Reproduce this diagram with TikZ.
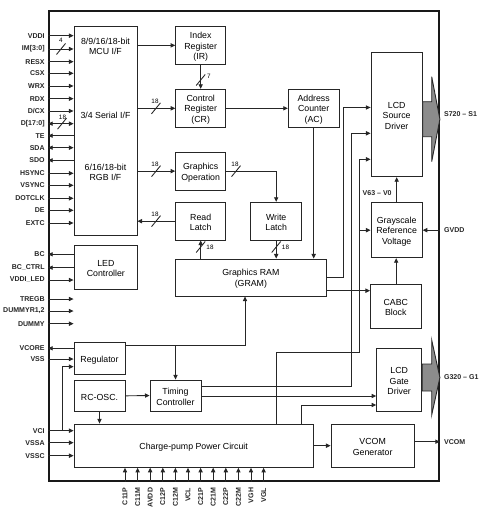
\documentclass[tikz,border=0pt]{standalone}
\usepackage{fontspec}
\setmainfont{Liberation Sans}
\usetikzlibrary{arrows.meta,fit}
\newcommand\bx[6]{\node[box, fit={(#2,#3) (#4,#5)}] (#1) {}; \node[txt, yshift=-0.8pt] (#1t) at (#1.center) {#6};}
\newcommand\busmark[6]{\draw[ln] (#2,#3) ++(-4.5,5.5) -- ++(9,-11); \node[num] (#1) at (#4,#5) {#6};}
\begin{document}
\begin{tikzpicture}[x=0.02cm,y=-0.02cm,
  box/.style={draw=black!85, line width=0.5pt, inner sep=0pt},
  txt/.style={align=center, font=\fontsize{5}{6}\selectfont, inner sep=0pt},
  sig/.style={font=\fontsize{4}{4.5}\selectfont\bfseries, inner sep=0pt, text=black!85},
  num/.style={font=\fontsize{3.6}{4}\selectfont, inner sep=0pt},
  ln/.style={line width=0.5pt, draw=black!85},
  arr/.style={ln, -{Triangle[length=2.6pt,width=2.4pt]}},
  rarr/.style={ln, {Triangle[length=2.6pt,width=2.4pt]}-},
  barr/.style={ln, {Triangle[length=2.6pt,width=2.4pt]}-{Triangle[length=2.6pt,width=2.4pt]}},
  bigarr/.style={draw=black!85, line width=0.5pt, fill=black!45},
]
\useasboundingbox (0,0) rectangle (485,520);
\node[draw=black!90, line width=1pt, fit={(49,10.7) (439,481)}, inner sep=0pt] (chip) {};

% boxes
\bx{mcu}{74}{26}{137}{235}{}
\node[txt] (mcut1) at (105.5,46.5) {8/9/16/18-bit\\MCU I/F};
\node[txt] (mcut2) at (105.5,115) {3/4 Serial I/F};
\node[txt] (mcut3) at (105.5,172.5) {6/16/18-bit\\RGB I/F};
\bx{ir}{175.7}{26.7}{225.7}{64}{Index\\Register\\(IR)}
\bx{cr}{175.7}{89.3}{225.7}{127.3}{Control\\Register\\(CR)}
\bx{ac}{288.3}{89.3}{339}{127.3}{Address\\Counter\\(AC)}
\bx{go}{175.7}{152.3}{225.7}{190}{Graphics\\Operation}
\bx{rl}{175.7}{202.3}{225.7}{240}{Read\\Latch}
\bx{wl}{250.7}{202.3}{301.7}{240}{Write\\Latch}
\bx{gram}{175.7}{259}{326}{296}{Graphics RAM\\(GRAM)}
\bx{sd}{371}{52.3}{422.3}{176.7}{LCD\\Source\\Driver}
\bx{gr}{371}{202.7}{422.3}{257.7}{Grayscale\\Reference\\Voltage}
\bx{cabc}{370.5}{284}{421}{328.3}{CABC\\Block}
\bx{gd}{376.7}{348.3}{421.7}{411.7}{LCD\\Gate\\Driver}
\bx{led}{74}{245}{137.7}{289.3}{LED\\Controller}
\bx{reg}{74}{342.7}{125}{374}{Regulator}
\bx{rc}{74}{380}{125}{411.7}{RC-OSC.}
\bx{tc}{150}{380}{201}{411}{Timing\\Controller}
\bx{cp}{74}{424}{313.3}{467.3}{Charge-pump Power Circuit}
\bx{vcom}{331}{424}{414.3}{467.3}{VCOM\\Generator}

% big output arrows
\draw[bigarr] (sd.east |- 0,101.7) -- (431.7,101.7) -- (431.7,76.7) -- (chip.east |- 0,119.2) -- (431.7,161.7) -- (431.7,136.7) -- (sd.east |- 0,136.7) -- cycle;
\draw[bigarr] (gd.east |- 0,364) -- (431.7,364) -- (431.7,340) -- (chip.east |- 0,377.5) -- (431.7,415) -- (431.7,391) -- (gd.east |- 0,391) -- cycle;

% MCU interface signals
\foreach \y/\t/\s [count=\i] in {35.7/VDDI/arr, 49/{IM[3:0]}/arr, 61.7/RESX/arr, 73.3/CSX/arr, 86/WRX/arr, 98.7/RDX/arr, 111/D\slash CX/arr, 123.7/{D[17:0]}/barr, 135.7/TE/rarr, 147.7/SDA/barr, 160.3/SDO/rarr, 173.3/HSYNC/arr, 185.3/VSYNC/arr, 198.3/DOTCLK/arr, 210.3/DE/arr, 223/EXTC/arr} {
  \draw[\s] (chip.west |- 0,\y) -- (mcu.west |- 0,\y);
  \node[sig, anchor=east, xshift=-1.8pt] (msig\i) at (chip.west |- 0,\y) {\t};
}
\busmark{b1}{61}{49}{61}{40.5}{4}
\busmark{b2}{62}{123.7}{62.5}{117}{18}

% LED and misc signals
\draw[rarr] (chip.west |- 0,254.3) -- (led.west |- 0,254.3);
\draw[rarr] (chip.west |- 0,267.7) -- (led.west |- 0,267.7);
\draw[arr] (chip.west |- 0,280) -- (led.west |- 0,280);
\node[sig, anchor=east, xshift=-1.8pt] (lbc) at (chip.west |- 0,254.3) {BC};
\node[sig, anchor=east, xshift=-1.8pt] (lbcc) at (chip.west |- 0,267.7) {BC\_CTRL};
\node[sig, anchor=east, xshift=-1.8pt] (lvled) at (chip.west |- 0,280) {VDDI\_LED};
\foreach \y/\t [count=\i] in {299/TREGB, 311/{DUMMYR1,2}, 323.7/DUMMY} {
  \draw[arr] (chip.west |- 0,\y) -- (led.west |- 0,\y);
  \node[sig, anchor=east, xshift=-1.8pt] (dsig\i) at (chip.west |- 0,\y) {\t};
}
% regulator signals
\draw[rarr] (chip.west |- 0,348.3) -- (reg.west |- 0,348.3);
\draw[arr] (chip.west |- 0,359) -- (reg.west |- 0,359);
\node[sig, anchor=east, xshift=-1.8pt] (lvcore) at (chip.west |- 0,348.3) {VCORE};
\node[sig, anchor=east, xshift=-1.8pt] (lvss) at (chip.west |- 0,359) {VSS};
% charge pump inputs
\draw[arr] (chip.west |- 0,430.7) -- (cp.west |- 0,430.7);
\draw[arr] (62.3,430.7) |- (reg.west |- 0,366.7);
\draw[arr] (chip.west |- 0,442.7) -- (cp.west |- 0,442.7);
\draw[arr] (chip.west |- 0,455.7) -- (cp.west |- 0,455.7);
\node[sig, anchor=east, xshift=-1.8pt] (lvci) at (chip.west |- 0,430.7) {VCI};
\node[sig, anchor=east, xshift=-1.8pt] (lvssa) at (chip.west |- 0,442.7) {VSSA};
\node[sig, anchor=east, xshift=-1.8pt] (lvssc) at (chip.west |- 0,455.7) {VSSC};

% internal data paths
\draw[arr] (mcu.east |- ir.west) -- (ir.west);
\draw[arr] (ir.south) -- (cr.north);
\busmark{b3}{200.7}{80}{209}{76.7}{7}
\draw[arr] (mcu.east |- cr.west) -- (cr.west);
\busmark{b4}{156}{108.3}{155}{101}{18}
\draw[arr] (cr.east) -- (ac.west);
\draw[arr] (mcu.east |- go.west) -- (go.west);
\busmark{b5}{156}{171.2}{155}{164.5}{18}
\draw[arr] (go.east) -| (wl.north);
\busmark{b6}{236}{171.2}{235}{164.5}{18}
\draw[arr] (rl.west) -- (mcu.east |- rl.west);
\busmark{b7}{156}{221.2}{155}{214.5}{18}
\draw[arr] (rl.south |- gram.north) -- (rl.south);
\busmark{b8}{200.7}{247}{210}{247}{18}
\draw[arr] (wl.south) -- (wl.south |- gram.north);
\busmark{b9}{276.2}{247}{285.5}{247}{18}
\draw[arr] (ac.south) -- (ac.south |- gram.north);
\draw[arr] (gram.east |- 0,277.5) -| (343.3,107.5) -- (sd.west |- 0,107.5);
\draw[arr] (gram.east |- 0,290.7) -- (cabc.west |- 0,290.7);
\draw[arr] (cabc.north -| 396.2,0) -- (gr.south -| 396.2,0);
\draw[arr] (gr.north -| 396.7,0) -- (sd.south -| 396.7,0);
\node[sig, anchor=east] (lv63) at (392,193) {V63 -- V0};
\draw[arr] (chip.east |- gr.east) -- (gr.east);
\node[sig, anchor=west, xshift=2.2pt] (lgvdd) at (chip.east |- gr.east) {GVDD};
\node[sig, anchor=west, xshift=2.2pt] (ls) at (chip.east |- 0,114) {S720 -- S1};
\node[sig, anchor=west, xshift=2.2pt] (lg) at (chip.east |- 0,376.7) {G320 -- G1};

% regulator / timing paths
\draw[arr] (reg.east |- 0,345.7) -| (gram.south -| 245,0);
\draw[arr] (tc.north |- 0,345.7) -- (tc.north);
\draw[arr] (rc.east) -- (tc.west);
\draw[arr] (rc.south) -- (rc.south |- cp.north);
\draw[arr] (tc.east |- 0,386) -| (351.7,133.3) -- (sd.west |- 0,133.3);
\draw[arr] (tc.east |- 0,396) -- (gd.west |- 0,396);
\draw[arr] (cp.north -| 276,0) |- (359,352) |- (sd.west |- 0,159.3);
\draw[arr] (gr.west -| 359,0) -- (gr.west);
\draw[arr] (cp.north -| 301,0) |- (gd.west |- 0,405);
\draw[arr] (cp.east) -- (vcom.west);
\draw[arr] (vcom.east |- 0,441.7) -- (chip.east |- 0,441.7);
\node[sig, anchor=west, xshift=2.2pt] (lvcom) at (chip.east |- 0,441.7) {VCOM};

% bottom pins
\foreach \x/\t [count=\i] in {125/C11P, 137.6/C11M, 150.2/AVDD, 162.8/C12P, 175.4/C12M, 188/VCL, 200.6/C21P, 213.2/C21M, 225.8/C22P, 238.4/C22M, 251/VGH, 263.6/VGL} {
  \draw[arr] (chip.south -| \x,0) -- (cp.south -| \x,0);
  \node[sig, rotate=90, anchor=east] (pin\i) at (\x,487.5) {\t};
}
\end{tikzpicture}
\end{document}
